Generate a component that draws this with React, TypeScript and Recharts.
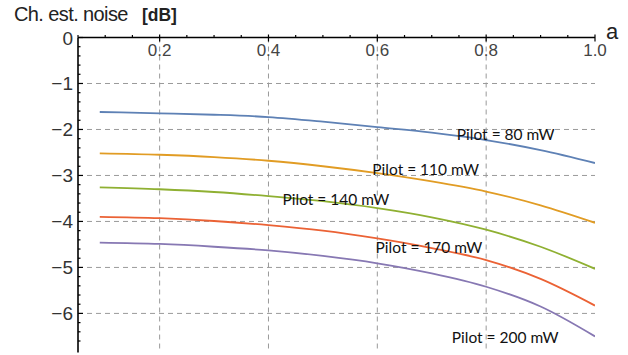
import React from 'react';
import { LineChart, Line, XAxis, YAxis, ReferenceLine, ReferenceDot, Label } from 'recharts';

const aValues = [0.09, 0.2, 0.3, 0.4, 0.5, 0.6, 0.7, 0.8, 0.9, 1.0];
const pilot80 = [-1.62, -1.65, -1.68, -1.73, -1.83, -1.95, -2.07, -2.23, -2.45, -2.73];
const pilot110 = [-2.52, -2.55, -2.6, -2.68, -2.8, -2.95, -3.13, -3.35, -3.65, -4.03];
const pilot140 = [-3.26, -3.3, -3.36, -3.45, -3.56, -3.71, -3.91, -4.18, -4.55, -5.03];
const pilot170 = [-3.9, -3.93, -3.99, -4.08, -4.2, -4.37, -4.58, -4.84, -5.25, -5.83];
const pilot200 = [-4.46, -4.49, -4.55, -4.63, -4.75, -4.91, -5.13, -5.42, -5.85, -6.5];

const xMajorTicks = [0.2, 0.4, 0.6, 0.8, 1.0];
const xMinorTicks = [0.05, 0.1, 0.15, 0.25, 0.3, 0.35, 0.45, 0.5, 0.55, 0.65, 0.7, 0.75, 0.85, 0.9, 0.95];
const yMajorTicks = [0, -1, -2, -3, -4, -5, -6];
const yMinorTicks = [-0.2, -0.4, -0.6, -0.8, -1.2, -1.4, -1.6, -1.8, -2.2, -2.4, -2.6, -2.8, -3.2, -3.4, -3.6, -3.8, -4.2, -4.4, -4.6, -4.8, -5.2, -5.4, -5.6, -5.8, -6.2, -6.4, -6.6];
const xGridValues = [0.2, 0.4, 0.6, 0.8];
const yGridValues = [-1, -2, -3, -4, -5, -6];

const seriesNames = ['Pilot = 80 mW', 'Pilot = 110 mW', 'Pilot = 140 mW', 'Pilot = 170 mW', 'Pilot = 200 mW'];
const seriesKeys = ['p80', 'p110', 'p140', 'p170', 'p200'];
const seriesColors = ['#5E81B5', '#E19C24', '#8FB032', '#EB6235', '#8778B3'];
const labelA = [0.836, 0.689, 0.524, 0.695, 0.835];
const labelY = [-2.12, -2.88, -3.53, -4.57, -6.53];

const data = aValues.map((a, i) => ({
  a,
  p80: pilot80[i],
  p110: pilot110[i],
  p140: pilot140[i],
  p170: pilot170[i],
  p200: pilot200[i],
}));

const allXTicks = [...xMinorTicks, ...xMajorTicks].sort((p, q) => p - q);
const allYTicks = [...yMajorTicks, ...yMinorTicks].sort((p, q) => q - p);

const XTick = (props: any) => {
  const { x, y, payload } = props;
  const v = payload.value;
  const major = xMajorTicks.some((m) => Math.abs(m - v) < 1e-9);
  if (major) {
    return (
      <g>
        <line x1={x} x2={x} y1={y - 3} y2={y + 4} stroke="#000" strokeWidth={1.2} />
        <text x={x} y={y + 18} textAnchor="middle" fontFamily="Liberation Sans, Arial, sans-serif" fontSize={17} fill="#444">
          {v.toFixed(1)}
        </text>
      </g>
    );
  }
  return <line x1={x} x2={x} y1={y - 2.5} y2={y} stroke="#000" strokeWidth={1.2} />;
};

const YTick = (props: any) => {
  const { x, y, payload } = props;
  const v = payload.value;
  const major = yMajorTicks.some((m) => Math.abs(m - v) < 1e-9);
  if (major) {
    return (
      <g>
        <line x1={x} x2={x + 5} y1={y} y2={y} stroke="#000" strokeWidth={1.2} />
        <text x={x - 5} y={y + 7} textAnchor="end" fontFamily="Liberation Sans, Arial, sans-serif" fontSize={19} fill="#333">
          {v < 0 ? '\u2212' + Math.abs(v) : String(v)}
        </text>
      </g>
    );
  }
  return <line x1={x} x2={x + 2.5} y1={y} y2={y} stroke="#000" strokeWidth={1.2} />;
};

export default function App() {
  return (
    <div style={{ position: 'absolute', left: 0, top: 0, width: 628, height: 355, background: '#fff' }}>
      <div
        style={{
          position: 'absolute',
          left: 14,
          top: 2,
          fontFamily: 'Liberation Sans, Arial, sans-serif',
          fontSize: 20,
          letterSpacing: -0.6,
          color: '#222',
          whiteSpace: 'nowrap',
          lineHeight: '24px',
        }}
      >
        Ch. est. noise
        <span style={{ fontWeight: 'bold', fontSize: 17.5, letterSpacing: 0, marginLeft: 14 }}>[dB]</span>
      </div>
      <div
        style={{
          position: 'absolute',
          left: 606,
          top: 20,
          fontFamily: 'Liberation Sans, Arial, sans-serif',
          fontSize: 22,
          color: '#222',
          lineHeight: '24px',
        }}
      >
        a
      </div>
      <LineChart
        width={628}
        height={355}
        data={data}
        margin={{ top: 37.5, right: 33, bottom: 2.5, left: 38 }}
      >
        {xGridValues.map((v) => (
          <ReferenceLine key={'gx' + v} x={v} stroke="#9a9a9a" strokeDasharray="5 4" strokeWidth={1} />
        ))}
        {yGridValues.map((v) => (
          <ReferenceLine key={'gy' + v} y={v} stroke="#9a9a9a" strokeDasharray="5 4" strokeWidth={1} />
        ))}
        <XAxis
          dataKey="a"
          type="number"
          domain={[0.05, 1.0]}
          orientation="top"
          mirror
          ticks={allXTicks}
          interval={0}
          tick={XTick}
          tickLine={false}
          tickSize={0}
          tickMargin={0}
          axisLine={{ stroke: '#000', strokeWidth: 1.3 }}
          allowDataOverflow
        />
        <YAxis
          type="number"
          domain={[-6.85, 0]}
          ticks={allYTicks}
          interval={0}
          tick={YTick}
          tickLine={false}
          tickSize={0}
          tickMargin={0}
          width={40}
          axisLine={{ stroke: '#000', strokeWidth: 1.6 }}
          allowDataOverflow
        />
        {seriesKeys.map((k, i) => (
          <Line
            key={k}
            dataKey={k}
            type="monotone"
            stroke={seriesColors[i]}
            strokeWidth={1.8}
            dot={false}
            isAnimationActive={false}
          />
        ))}
        {seriesNames.map((n, i) => (
          <ReferenceDot key={n} x={labelA[i]} y={labelY[i]} r={1} fill="none" stroke="none">
            <Label value={n} position="center" style={{ fontFamily: 'Lato, sans-serif', fontSize: 15.5, fill: '#111' }} />
          </ReferenceDot>
        ))}
      </LineChart>
    </div>
  );
}
